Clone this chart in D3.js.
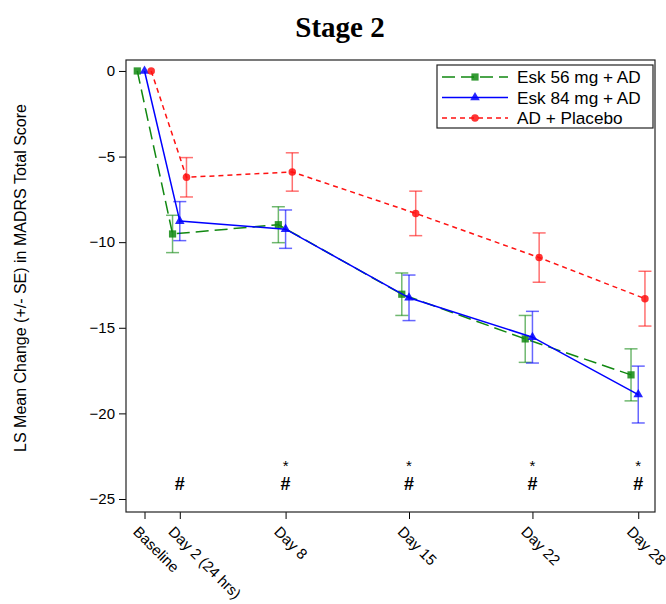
<!DOCTYPE html>
<html><head><meta charset="utf-8">
<script src="https://cdn.jsdelivr.net/npm/d3@7"></script>
<style>body{margin:0;background:#fff} svg{display:block}</style>
</head><body>
<script>
// Visits and their study day (baseline = day 0)
const visits = ["Baseline", "Day 2 (24 hrs)", "Day 8", "Day 15", "Day 22", "Day 28"];
const visitDays = [0, 2, 8, 15, 22, 28];

// LS mean change from baseline and standard errors per arm
const esk56Mean = [0, -9.52, -8.98, -13.04, -15.65, -17.75];
const esk56SE   = [0, 1.09, 1.05, 1.24, 1.37, 1.52];
const esk84Mean = [0, -8.77, -9.24, -13.25, -15.55, -18.90];
const esk84SE   = [0, 1.14, 1.12, 1.33, 1.51, 1.66];
const placeboMean = [0, -6.21, -5.90, -8.32, -10.90, -13.30];
const placeboSE   = [0, 1.15, 1.12, 1.30, 1.44, 1.60];

const seriesNames = ["Esk 56 mg + AD", "Esk 84 mg + AD", "AD + Placebo"];
const yTicks = [0, -5, -10, -15, -20, -25];

// Significance markers drawn under each visit
const hashVisits = ["Day 2 (24 hrs)", "Day 8", "Day 15", "Day 22", "Day 28"];
const starVisits = ["Day 8", "Day 15", "Day 22", "Day 28"];

const W = 666, H = 604;
const frame = {left: 126, right: 655, top: 60, bottom: 512};

const svg = d3.select("body").append("svg").attr("width", W).attr("height", H)
  .style("font-family", "Arial, 'Liberation Sans', sans-serif");

const x = d3.scaleLinear().domain([-1.05, 28.95]).range([frame.left, frame.right]);
const y = d3.scaleLinear().domain([-25.76, 0.64]).range([frame.bottom, frame.top]);

const series = [
  {name: seriesNames[0], mean: esk56Mean, se: esk56SE, color: "#118811", dash: "13,6", shift: -0.41, symbol: d3.symbolSquare, size: 52},
  {name: seriesNames[1], mean: esk84Mean, se: esk84SE, color: "#0000ff", dash: null, shift: 0, symbol: d3.symbolTriangle, size: 40},
  {name: seriesNames[2], mean: placeboMean, se: placeboSE, color: "#ff1111", dash: "5,4", shift: 0.38, symbol: d3.symbolCircle, size: 44}
];

// Title
svg.append("text").attr("x", 340).attr("y", 37).attr("text-anchor", "middle")
  .style("font-family", "'Times New Roman', 'Liberation Serif', serif")
  .style("font-weight", "bold").style("font-size", "29px").text("Stage 2");

// Axes
const yAxis = d3.axisLeft(y).tickValues(yTicks).tickSize(7).tickPadding(4).tickFormat(d3.format("d"));
const gy = svg.append("g").attr("transform", `translate(${frame.left},0)`).call(yAxis);
gy.select(".domain").remove();
gy.selectAll("text").style("font-size", "15px").style("font-family", "Arial, 'Liberation Sans', sans-serif").attr("fill", "#000");
gy.selectAll("line").attr("stroke", "#000");

const xAxis = d3.axisBottom(x).tickValues(visitDays).tickSize(7).tickFormat((d, i) => visits[i]);
const gx = svg.append("g").attr("transform", `translate(0,${frame.bottom})`).call(xAxis);
gx.select(".domain").remove();
gx.selectAll("line").attr("stroke", "#000");
gx.selectAll("text")
  .style("font-size", "15px").style("font-family", "Arial, 'Liberation Sans', sans-serif").attr("fill", "#000")
  .attr("text-anchor", "start").attr("x", 0).attr("y", 0).attr("dy", "0.35em")
  .attr("transform", "translate(-9,17) rotate(45)");

// Plot frame
svg.append("rect").attr("x", frame.left).attr("y", frame.top)
  .attr("width", frame.right - frame.left).attr("height", frame.bottom - frame.top)
  .attr("fill", "none").attr("stroke", "#222").attr("stroke-width", 1.2);

// Y axis title
svg.append("text").attr("transform", "translate(26,278) rotate(-90)")
  .attr("text-anchor", "middle").style("font-size", "16px")
  .text("LS Mean Change (+/- SE) in MADRS Total Score");

const plot = svg.append("g");

series.forEach(s => {
  const pts = visitDays.map((d, i) => ({x: x(d + s.shift), m: s.mean[i], se: s.se[i]}));
  // error bars
  const eb = plot.append("g").attr("stroke", s.color).attr("stroke-opacity", 0.6).attr("stroke-width", 1.5);
  pts.filter(p => p.se > 0).forEach(p => {
    eb.append("line").attr("x1", p.x).attr("x2", p.x).attr("y1", y(p.m + p.se)).attr("y2", y(p.m - p.se));
    eb.append("line").attr("x1", p.x - 6.5).attr("x2", p.x + 6.5).attr("y1", y(p.m + p.se)).attr("y2", y(p.m + p.se));
    eb.append("line").attr("x1", p.x - 6.5).attr("x2", p.x + 6.5).attr("y1", y(p.m - p.se)).attr("y2", y(p.m - p.se));
  });
  // connecting line
  plot.append("path").datum(pts)
    .attr("d", d3.line().x(p => p.x).y(p => y(p.m)))
    .attr("fill", "none").attr("stroke", s.color).attr("stroke-width", 1.5)
    .attr("stroke-dasharray", s.dash);
  // markers
  plot.selectAll(null).data(pts).enter().append("path")
    .attr("d", d3.symbol().type(s.symbol).size(s.size))
    .attr("transform", p => `translate(${p.x},${y(p.m)})`)
    .attr("fill", s.color).attr("fill-opacity", 0.85);
});

// Significance markers
const dayOf = v => visitDays[visits.indexOf(v)];
svg.selectAll(null).data(hashVisits).enter().append("text")
  .attr("x", v => x(dayOf(v))).attr("y", y(-24.1)).attr("dy", "0.35em")
  .attr("text-anchor", "middle").style("font-size", "18px").style("font-weight", "bold").text("#");
svg.selectAll(null).data(starVisits).enter().append("text")
  .attr("x", v => x(dayOf(v))).attr("y", y(-22.85)).attr("dy", "0.6em")
  .attr("text-anchor", "middle").style("font-size", "15px").text("*");

// Legend
const lg = svg.append("g");
lg.append("rect").attr("x", 437).attr("y", 65).attr("width", 216).attr("height", 63)
  .attr("fill", "#fff").attr("stroke", "#222").attr("stroke-width", 1.2);
series.forEach((s, i) => {
  const cy = 77 + i * 20.5;
  lg.append("line").attr("x1", 442).attr("x2", 508).attr("y1", cy).attr("y2", cy)
    .attr("stroke", s.color).attr("stroke-width", 1.5).attr("stroke-dasharray", s.dash);
  lg.append("path").attr("d", d3.symbol().type(s.symbol).size(s.size))
    .attr("transform", `translate(475,${cy})`).attr("fill", s.color).attr("fill-opacity", 0.85);
  lg.append("text").attr("x", 517).attr("y", cy).attr("dy", "0.36em")
    .style("font-size", "17.2px").text(s.name);
});
</script>
</body></html>
